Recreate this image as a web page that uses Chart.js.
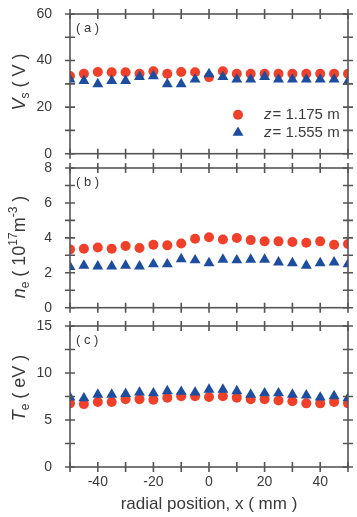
<!DOCTYPE html>
<html>
<head>
<meta charset="utf-8">
<script src="https://cdn.jsdelivr.net/npm/chart.js@4.4.0/dist/chart.umd.min.js"></script>
<style>
  body { margin: 0; background: #fff; }
  #wrap { position: relative; width: 357px; height: 517px; }
  canvas { position: absolute; left: 0; }
</style>
</head>
<body>
<div id="wrap">
  <canvas id="chartA" width="357" height="160" style="top:0px"></canvas>
  <canvas id="chartB" width="357" height="160" style="top:154px"></canvas>
  <canvas id="chartC" width="357" height="205" style="top:312px"></canvas>
</div>
<script>
// radial positions (mm)
const radialX = [-50, -45, -40, -35, -30, -25, -20, -15, -10, -5, 0, 5, 10, 15, 20, 25, 30, 35, 40, 45, 50];

// (a) space potential Vs (V)
const vsZ1175 = [33.4, 34.3, 35.1, 35.0, 35.0, 34.3, 35.4, 34.3, 35.1, 35.0, 32.9, 35.4, 34.3, 34.3, 34.3, 34.3, 34.3, 34.3, 34.3, 34.3, 34.3];
const vsZ1555 = [31.9, 31.3, 29.9, 31.3, 31.3, 33.0, 33.3, 29.9, 29.9, 31.9, 34.2, 33.0, 31.9, 31.9, 33.0, 31.9, 31.9, 31.9, 31.9, 31.9, 31.0];

// (b) electron density ne (1e17 m^-3)
const neZ1175 = [3.34, 3.38, 3.45, 3.38, 3.53, 3.42, 3.60, 3.57, 3.68, 3.95, 4.03, 3.91, 3.99, 3.87, 3.80, 3.80, 3.76, 3.72, 3.80, 3.60, 3.65];
const neZ1555 = [2.34, 2.41, 2.37, 2.37, 2.41, 2.37, 2.49, 2.49, 2.79, 2.72, 2.56, 2.76, 2.72, 2.76, 2.76, 2.60, 2.56, 2.41, 2.56, 2.60, 2.49];

// (c) electron temperature Te (eV)
const teZ1175 = [6.77, 6.69, 6.92, 6.92, 7.22, 7.22, 7.15, 7.38, 7.53, 7.53, 7.45, 7.53, 7.38, 7.22, 7.22, 7.07, 7.00, 6.77, 6.77, 6.92, 6.77];
const teZ1555 = [7.40, 7.32, 7.70, 7.70, 7.78, 7.93, 7.85, 8.08, 8.01, 7.93, 8.24, 8.24, 8.08, 7.70, 7.85, 7.85, 7.70, 7.63, 7.40, 7.55, 7.32];

const seriesLabels = ['1.175', '1.555'];

const RED = '#f0402a';
const BLUE = '#1d4d9e';
const AXIS = '#555';
const TEXT = '#3a3a3a';
const FONT = '"Liberation Sans", Arial, sans-serif';
const CIRCLE_R = 5;
const TRI_R = 6.3;

function pts(ys) {
  return radialX.map((x, i) => ({ x: x, y: ys[i] }));
}

function drawMarker(ctx, style, x, y) {
  ctx.beginPath();
  if (style === 'circle') {
    ctx.arc(x, y, CIRCLE_R, 0, Math.PI * 2);
  } else {
    const r = TRI_R;
    ctx.moveTo(x, y - r);
    ctx.lineTo(x + r * Math.sin(Math.PI / 3), y + r / 2);
    ctx.lineTo(x - r * Math.sin(Math.PI / 3), y + r / 2);
    ctx.closePath();
  }
  ctx.fill();
}

// rotated rich text for the y titles (sub/superscripts)
function drawYTitle(ctx, x, y, segs) {
  ctx.save();
  ctx.translate(x, y);
  ctx.rotate(-Math.PI / 2);
  ctx.fillStyle = TEXT;
  ctx.textBaseline = 'alphabetic';
  ctx.textAlign = 'left';
  let total = 0;
  segs.forEach(s => {
    ctx.font = (s.it ? 'italic ' : '') + (s.sub || s.sup ? 12 : 18) + 'px ' + FONT;
    s.w = ctx.measureText(s.t).width;
    total += s.w;
  });
  let pos = -total / 2;
  segs.forEach(s => {
    ctx.font = (s.it ? 'italic ' : '') + (s.sub || s.sup ? 12 : 18) + 'px ' + FONT;
    const dy = s.sub ? 4 : (s.sup ? -8 : 0);
    ctx.fillText(s.t, pos, dy);
    pos += s.w;
  });
  ctx.restore();
}

const framePlugin = {
  id: 'frame',
  afterDraw(chart, args, opts) {
    const ctx = chart.ctx;
    const a = chart.chartArea;
    const xs = chart.scales.x;
    const ys = chart.scales.y;
    ctx.save();
    ctx.strokeStyle = AXIS;
    ctx.lineWidth = 1.6;
    ctx.strokeRect(a.left, a.top, a.right - a.left, a.bottom - a.top);
    ctx.beginPath();
    xs.ticks.forEach(t => {
      const px = xs.getPixelForValue(t.value);
      ctx.moveTo(px, a.bottom - 5); ctx.lineTo(px, a.bottom + 5);
      ctx.moveTo(px, a.top - 5); ctx.lineTo(px, a.top + 5);
    });
    ys.ticks.forEach(t => {
      const py = ys.getPixelForValue(t.value);
      ctx.moveTo(a.left - 5, py); ctx.lineTo(a.left + 5, py);
      ctx.moveTo(a.right - 5, py); ctx.lineTo(a.right + 5, py);
    });
    ctx.stroke();

    // y tick labels (drawn here so they add no layout overhang)
    ctx.fillStyle = TEXT;
    ctx.font = '14px ' + FONT;
    ctx.textAlign = 'right';
    ctx.textBaseline = 'middle';
    ys.ticks.forEach(t => {
      if (t.value % opts.major === 0) {
        ctx.fillText(String(t.value), a.left - 18, ys.getPixelForValue(t.value));
      }
    });

    // panel letter
    ctx.font = '13px ' + FONT;
    ctx.textAlign = 'left';
    ctx.fillText(opts.panel, a.left + 6, a.top + 14);

    drawYTitle(ctx, 25, opts.titleY, opts.title);

    if (opts.legend) {
      chart.data.datasets.forEach((ds, i) => {
        const ly = a.bottom - 39 + i * 18;
        ctx.fillStyle = ds.backgroundColor;
        drawMarker(ctx, ds.pointStyle, a.left + 168, ly);
        ctx.fillStyle = TEXT;
        ctx.textAlign = 'left';
        ctx.textBaseline = 'middle';
        ctx.font = 'italic 15px ' + FONT;
        ctx.fillText('z', a.left + 194, ly);
        const zw = ctx.measureText('z').width;
        ctx.font = '15px ' + FONT;
        ctx.fillText('= ' + ds.label + ' m', a.left + 194 + zw + 1, ly);
      });
    }
    ctx.restore();
  }
};

function makeChart(id, cfg) {
  const ctx = document.getElementById(id).getContext('2d');
  return new Chart(ctx, {
    type: 'scatter',
    data: {
      datasets: [{
        label: seriesLabels[0],
        data: pts(cfg.red),
        backgroundColor: RED,
        borderWidth: 0,
        pointStyle: 'circle',
        pointRadius: CIRCLE_R,
        order: 2,
        clip: 0
      }, {
        label: seriesLabels[1],
        data: pts(cfg.blue),
        backgroundColor: BLUE,
        borderWidth: 0,
        pointStyle: 'triangle',
        pointRadius: TRI_R,
        order: 1,
        clip: 0
      }]
    },
    options: {
      responsive: false,
      animation: false,
      events: [],
      layout: {
        padding: { top: 14, right: 9, left: 0, bottom: 0 }
      },
      plugins: {
        legend: { display: false },
        tooltip: { enabled: false },
        frame: {
          panel: cfg.panel,
          title: cfg.title,
          titleY: cfg.titleY,
          legend: cfg.legend,
          major: cfg.major
        }
      },
      scales: {
        x: {
          type: 'linear',
          min: -50,
          max: 50,
          grid: { display: false, drawTicks: false },
          border: { display: false },
          ticks: {
            stepSize: 10,
            autoSkip: false,
            maxRotation: 0,
            display: cfg.bottom,
            padding: 7,
            color: TEXT,
            font: { size: 14, family: FONT },
            callback: v => (v % 20 === 0 && Math.abs(v) < 50) ? v : ''
          },
          title: {
            display: cfg.bottom,
            text: 'radial position, x ( mm )',
            color: TEXT,
            font: { size: 17, family: FONT },
            padding: { top: 6, bottom: 2 }
          },
          afterFit: s => { s.height = cfg.xHeight; }
        },
        y: {
          min: 0,
          max: cfg.max,
          grid: { display: false, drawTicks: false },
          border: { display: false },
          ticks: {
            stepSize: cfg.step,
            autoSkip: false,
            display: false
          },
          afterFit: s => { s.width = 70; }
        }
      }
    },
    plugins: [framePlugin]
  });
}

makeChart('chartA', {
  red: vsZ1175, blue: vsZ1555, max: 60, step: 10, major: 20,
  panel: '( a )', legend: true, bottom: false, xHeight: 6, titleY: 82,
  title: [{ t: 'V', it: true }, { t: 's', sub: true }, { t: ' ( V )' }]
});

makeChart('chartB', {
  red: neZ1175, blue: neZ1555, max: 8, step: 1, major: 2,
  panel: '( b )', legend: false, bottom: false, xHeight: 5, titleY: 93,
  title: [{ t: 'n', it: true }, { t: 'e', sub: true }, { t: ' ( 10' }, { t: '17', sup: true },
          { t: 'm' }, { t: '-3', sup: true }, { t: ' )' }]
});

makeChart('chartC', {
  red: teZ1175, blue: teZ1555, max: 15, step: 2.5, major: 5,
  panel: '( c )', legend: false, bottom: true, xHeight: 50, titleY: 76,
  title: [{ t: 'T', it: true }, { t: 'e', sub: true }, { t: ' ( eV )' }]
});
</script>
</body>
</html>
